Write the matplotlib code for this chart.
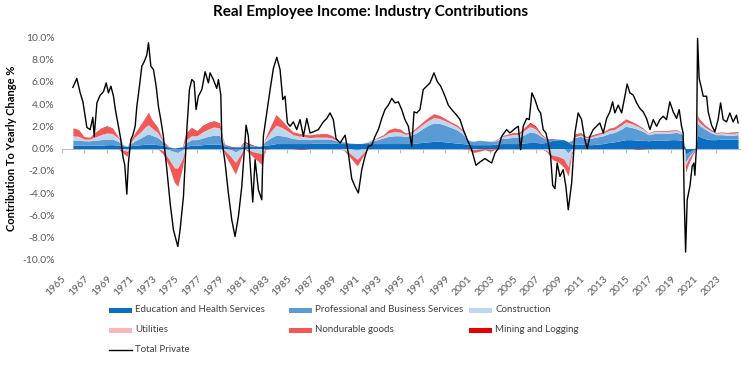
import numpy as np
import matplotlib.pyplot as plt
import matplotlib as mpl
from matplotlib.patches import Rectangle
from matplotlib.lines import Line2D

mpl.rc('font', family=['Lato', 'DejaVu Sans'])

# ---- Total Private (yearly change, %) ----
tot_years = [1966.00, 1966.35, 1966.65, 1966.89, 1967.09, 1967.24, 1967.53, 1967.77, 1967.89, 1968.13,
             1968.42, 1968.71, 1968.95, 1969.15, 1969.37, 1969.60, 1969.75, 1970.04, 1970.25, 1970.45,
             1970.60, 1970.78, 1970.92, 1971.14, 1971.31, 1971.52, 1971.67, 1971.90, 1972.11, 1972.32,
             1972.55, 1972.70, 1972.91, 1973.14, 1973.38, 1973.58, 1973.79, 1974.02, 1974.33, 1974.62,
             1974.91, 1975.30, 1975.50, 1975.80, 1976.10, 1976.33, 1976.54, 1976.74, 1976.92, 1977.12,
             1977.43, 1977.72, 1978.01, 1978.16, 1978.45, 1978.75, 1978.90, 1979.11, 1979.20, 1979.49,
             1979.78, 1980.08, 1980.37, 1980.67, 1980.97, 1981.35, 1981.55, 1981.94, 1982.15, 1982.44,
             1982.74, 1982.88, 1983.18, 1983.48, 1983.77, 1984.07, 1984.36, 1984.60, 1984.80, 1985.01,
             1985.25, 1985.54, 1985.84, 1986.13, 1986.43, 1986.73, 1987.02, 1987.31, 1987.75, 1988.20,
             1988.50, 1988.79, 1989.08, 1989.32, 1989.68, 1990.12, 1990.41, 1990.71, 1991.00, 1991.30,
             1991.60, 1991.89, 1992.18, 1992.48, 1992.78, 1993.07, 1993.37, 1993.66, 1993.95, 1994.26,
             1994.55, 1994.84, 1995.14, 1995.43, 1995.73, 1996.03, 1996.23, 1996.47, 1996.76, 1997.05,
             1997.36, 1997.65, 1998.00, 1998.30, 1998.60, 1998.98, 1999.27, 1999.57, 2000.01, 2000.31,
             2000.60, 2000.95, 2001.34, 2001.72, 2002.08, 2002.52, 2003.11, 2003.41, 2003.70, 2004.00,
             2004.44, 2004.73, 2005.18, 2005.47, 2005.68, 2005.91, 2006.21, 2006.44, 2006.68, 2006.95,
             2007.24, 2007.45, 2007.68, 2007.92, 2008.13, 2008.34, 2008.52, 2008.72, 2008.92, 2009.16,
             2009.45, 2009.69, 2009.90, 2010.20, 2010.49, 2010.78, 2011.08, 2011.37, 2011.58, 2011.82,
             2012.11, 2012.41, 2012.70, 2013.00, 2013.30, 2013.59, 2013.83, 2014.03, 2014.33, 2014.63,
             2014.92, 2015.12, 2015.36, 2015.66, 2015.96, 2016.25, 2016.54, 2016.84, 2017.14, 2017.43,
             2017.73, 2018.02, 2018.31, 2018.61, 2018.90, 2019.20, 2019.50, 2019.73, 2019.94, 2020.08,
             2020.17, 2020.30, 2020.44, 2020.68, 2020.88, 2021.03, 2021.12, 2021.27, 2021.36, 2021.50,
             2021.71, 2021.86, 2022.16, 2022.30, 2022.60, 2022.89, 2023.18, 2023.40, 2023.63, 2023.93,
             2024.22, 2024.51, 2024.81, 2024.95]
tot_vals = [5.5, 6.3, 5.0, 4.2, 2.9, 1.9, 1.7, 2.8, 1.1, 4.1,
            4.8, 5.1, 5.9, 5.0, 5.6, 4.7, 3.6, 2.0, 0.8, -0.8,
            -1.5, -4.1, -1.3, 0.8, 1.2, 2.0, 3.8, 5.6, 7.4, 7.8,
            8.4, 9.5, 7.4, 7.1, 5.6, 3.8, 2.6, 1.1, -1.9, -4.9,
            -7.3, -8.8, -7.3, -4.3, 1.7, 5.3, 6.2, 6.0, 3.5, 4.7,
            5.3, 6.9, 5.9, 6.8, 6.2, 5.4, 6.2, 4.8, 0.8, -1.3,
            -4.0, -6.4, -7.9, -6.1, -3.4, 2.1, 1.1, -4.8, -1.0, -3.7,
            -4.6, 1.1, 3.2, 5.3, 7.2, 8.2, 7.1, 4.4, 4.7, 2.3,
            2.0, 2.4, 1.7, 2.6, 1.1, 2.7, 1.4, 1.5, 1.7, 2.4,
            2.7, 3.2, 2.6, 0.9, 0.5, 1.2, -0.4, -2.7, -3.4, -4.0,
            -1.9, -0.7, 0.2, 0.3, 1.1, 1.7, 2.7, 3.5, 3.9, 4.5,
            4.1, 4.2, 3.5, 2.6, 2.0, 0.2, 3.3, 3.2, 3.5, 5.3,
            5.6, 5.9, 6.8, 6.0, 5.6, 4.7, 3.9, 3.5, 3.0, 2.6,
            1.7, 0.8, -0.1, -1.5, -1.2, -0.9, -1.3, -0.4, 0.0, 1.1,
            1.7, 1.4, 1.8, 2.0, -0.1, 2.0, 2.7, 2.6, 5.0, 4.4,
            3.5, 3.2, 1.7, 1.4, 0.5, -0.7, -3.3, -3.6, -1.3, -2.5,
            -1.9, -3.4, -5.5, -3.1, 1.4, 3.2, 2.6, 0.8, 0.0, 1.1,
            1.7, 2.0, 2.3, 1.4, 2.7, 3.3, 4.2, 3.2, 3.9, 3.2,
            4.7, 5.8, 5.0, 4.8, 4.1, 3.6, 3.3, 2.7, 1.7, 2.6,
            2.0, 2.6, 2.9, 2.6, 4.2, 3.3, 2.7, 3.5, 2.0, 1.4,
            -4.3, -9.3, -4.6, -3.4, -1.6, -1.3, -2.4, 0.3, 9.9, 6.3,
            5.4, 4.7, 4.7, 3.3, 2.1, 1.5, 2.6, 4.1, 2.6, 2.4,
            3.2, 2.4, 3.0, 2.3]

# ---- Industry contributions (percentage points) ----
comp_years = [1966.0, 1966.5, 1967.0, 1967.5, 1968.0, 1968.5, 1969.0, 1969.5, 1970.0, 1970.5,
              1970.8, 1971.0, 1971.5, 1972.0, 1972.5, 1972.7, 1973.0, 1973.5, 1974.0, 1974.5,
              1975.0, 1975.3, 1975.7, 1976.0, 1976.5, 1977.0, 1977.5, 1978.0, 1978.5, 1979.0,
              1979.25, 1979.5, 1980.0, 1980.4, 1980.8, 1981.2, 1981.5, 1982.0, 1982.5, 1982.8,
              1983.0, 1983.5, 1984.0, 1984.5, 1985.0, 1985.5, 1986.0, 1986.5, 1987.0, 1987.5,
              1988.0, 1988.5, 1989.0, 1989.5, 1990.0, 1990.5, 1991.2, 1991.5, 1992.0, 1992.5,
              1993.0, 1993.5, 1994.0, 1994.5, 1995.0, 1995.5, 1996.0, 1996.5, 1997.0, 1997.5,
              1998.0, 1998.5, 1999.0, 1999.5, 2000.0, 2000.5, 2001.0, 2001.5, 2002.0, 2002.5,
              2003.0, 2003.5, 2004.0, 2004.5, 2005.0, 2005.5, 2006.0, 2006.5, 2007.0, 2007.5,
              2008.0, 2008.5, 2009.0, 2009.5, 2009.9, 2010.2, 2010.5, 2011.0, 2011.5, 2012.0,
              2012.5, 2013.0, 2013.5, 2014.0, 2014.5, 2015.0, 2015.5, 2016.0, 2016.5, 2017.0,
              2017.5, 2018.0, 2018.5, 2019.0, 2019.5, 2020.0, 2020.2, 2020.3, 2020.6, 2021.0,
              2021.2, 2021.35, 2021.5, 2022.0, 2022.5, 2023.0, 2023.5, 2024.0, 2024.5, 2024.95]
edu = [0.30, 0.30, 0.30, 0.30, 0.30, 0.30, 0.35, 0.35, 0.30, 0.25,
       0.20, 0.25, 0.30, 0.35, 0.40, 0.40, 0.40, 0.35, 0.30, 0.10,
       0.05, 0.10, 0.15, 0.20, 0.30, 0.30, 0.35, 0.40, 0.40, 0.40,
       0.30, 0.20, 0.15, 0.10, 0.10, 0.25, 0.25, 0.20, 0.20, 0.25,
       0.30, 0.35, 0.45, 0.45, 0.45, 0.45, 0.45, 0.45, 0.45, 0.50,
       0.50, 0.50, 0.50, 0.45, 0.45, 0.45, 0.45, 0.45, 0.45, 0.45,
       0.45, 0.45, 0.45, 0.45, 0.45, 0.45, 0.45, 0.50, 0.55, 0.60,
       0.65, 0.65, 0.60, 0.55, 0.50, 0.45, 0.40, 0.35, 0.35, 0.35,
       0.35, 0.40, 0.45, 0.45, 0.45, 0.45, 0.50, 0.55, 0.55, 0.50,
       0.55, 0.75, 0.80, 0.80, 0.60, 0.40, 0.40, 0.40, 0.35, 0.35,
       0.40, 0.45, 0.55, 0.60, 0.70, 0.80, 0.80, 0.75, 0.75, 0.70,
       0.75, 0.75, 0.75, 0.80, 0.80, 0.75, 0.20, -0.50, -0.30, -0.10,
       0.00, 1.20, 1.10, 0.90, 0.80, 0.80, 0.85, 0.85, 0.85, 0.85]
prof = [0.45, 0.45, 0.40, 0.40, 0.45, 0.50, 0.50, 0.50, 0.35, 0.05,
        -0.05, 0.10, 0.40, 0.60, 0.85, 0.90, 0.80, 0.65, 0.30, -0.10,
        -0.30, -0.35, -0.10, 0.30, 0.50, 0.50, 0.60, 0.70, 0.80, 0.80,
        0.40, 0.10, -0.10, -0.30, -0.10, 0.20, 0.15, 0.05, 0.00, 0.00,
        0.30, 0.60, 0.75, 0.70, 0.60, 0.45, 0.40, 0.40, 0.35, 0.35,
        0.35, 0.35, 0.30, 0.20, 0.15, 0.05, -0.15, -0.05, 0.10, 0.20,
        0.35, 0.50, 0.65, 0.70, 0.70, 0.65, 0.75, 0.95, 1.25, 1.50,
        1.65, 1.60, 1.50, 1.35, 1.20, 0.90, 0.35, 0.30, 0.40, 0.35,
        0.30, 0.30, 0.45, 0.50, 0.55, 0.55, 0.75, 0.95, 0.85, 0.60,
        0.25, 0.10, 0.05, 0.00, -0.40, 0.30, 0.60, 0.70, 0.55, 0.60,
        0.65, 0.70, 0.80, 0.85, 1.00, 1.20, 1.10, 1.00, 0.80, 0.55,
        0.60, 0.60, 0.60, 0.60, 0.65, 0.55, 0.10, -0.70, -0.40, -0.10,
        0.05, 1.10, 1.00, 0.85, 0.65, 0.45, 0.40, 0.35, 0.35, 0.40]
constr = [0.35, 0.30, 0.10, 0.10, 0.25, 0.40, 0.50, 0.45, 0.25, -0.15,
          -0.20, 0.05, 0.30, 0.50, 0.70, 0.75, 0.60, 0.40, -0.20, -0.80,
          -1.35, -1.30, -0.80, 0.20, 0.30, 0.30, 0.50, 0.60, 0.70, 0.60,
          0.20, -0.20, -0.60, -0.90, -0.50, 0.05, -0.10, -0.30, -0.40, -0.50,
          0.10, 0.50, 0.85, 0.70, 0.50, 0.30, 0.25, 0.20, 0.15, 0.15,
          0.15, 0.15, 0.10, 0.00, -0.10, -0.40, -0.80, -0.60, -0.10, 0.05,
          0.10, 0.15, 0.30, 0.35, 0.30, 0.15, 0.20, 0.30, 0.35, 0.40,
          0.45, 0.40, 0.35, 0.30, 0.25, 0.20, 0.05, -0.10, -0.05, 0.00,
          -0.05, 0.05, 0.15, 0.20, 0.25, 0.25, 0.35, 0.45, 0.30, 0.05,
          -0.20, -0.60, -0.70, -0.90, -1.20, -0.30, 0.05, 0.10, 0.05, 0.10,
          0.15, 0.20, 0.25, 0.25, 0.30, 0.35, 0.30, 0.25, 0.20, 0.10,
          0.15, 0.15, 0.15, 0.15, 0.15, 0.10, 0.00, -0.30, -0.15, -0.05,
          0.00, 0.30, 0.25, 0.15, 0.15, 0.10, 0.15, 0.15, 0.15, 0.15]
util = [0.05, 0.05, 0.05, 0.05, 0.05, 0.05, 0.05, 0.05, 0.05, 0.03,
        0.00, 0.03, 0.05, 0.05, 0.08, 0.08, 0.05, 0.05, 0.00, -0.05,
        -0.10, -0.10, -0.05, 0.03, 0.05, 0.05, 0.05, 0.05, 0.05, 0.05,
        0.03, 0.00, -0.03, -0.05, -0.03, 0.02, 0.00, 0.00, 0.00, -0.02,
        0.02, 0.05, 0.05, 0.05, 0.05, 0.05, 0.03, 0.03, 0.03, 0.03,
        0.03, 0.03, 0.03, 0.02, 0.02, 0.00, -0.03, 0.00, 0.02, 0.02,
        0.02, 0.02, 0.03, 0.03, 0.03, 0.02, 0.02, 0.03, 0.03, 0.03,
        0.05, 0.05, 0.04, 0.04, 0.03, 0.03, 0.02, 0.00, 0.00, 0.00,
        0.00, 0.02, 0.02, 0.02, 0.02, 0.02, 0.03, 0.05, 0.05, 0.03,
        0.02, 0.00, 0.00, -0.02, -0.05, 0.00, 0.02, 0.02, 0.02, 0.02,
        0.02, 0.02, 0.03, 0.03, 0.03, 0.05, 0.05, 0.03, 0.02, 0.02,
        0.02, 0.02, 0.02, 0.02, 0.02, 0.02, 0.00, 0.00, 0.00, 0.00,
        0.00, 0.02, 0.02, 0.02, 0.02, 0.02, 0.02, 0.02, 0.02, 0.02]
nondur = [0.65, 0.55, 0.20, 0.15, 0.40, 0.55, 0.60, 0.45, 0.10, -0.30,
          -0.45, 0.10, 0.35, 0.60, 0.85, 1.05, 0.70, 0.45, -0.30, -0.60,
          -1.30, -1.65, -0.80, 0.60, 0.70, 0.40, 0.55, 0.55, 0.50, 0.40,
          0.05, -0.40, -0.80, -1.05, -0.60, 0.05, -0.15, -0.50, -0.80, -0.95,
          0.10, 0.50, 0.90, 0.60, 0.40, 0.25, 0.25, 0.20, 0.25, 0.25,
          0.30, 0.30, 0.20, 0.05, -0.05, -0.30, -0.55, -0.40, -0.05, 0.05,
          0.08, 0.12, 0.25, 0.30, 0.25, 0.10, 0.10, 0.15, 0.20, 0.25,
          0.30, 0.25, 0.20, 0.15, 0.15, 0.10, -0.05, -0.25, -0.20, -0.10,
          -0.20, -0.05, 0.05, 0.08, 0.10, 0.10, 0.15, 0.25, 0.20, 0.10,
          -0.10, -0.40, -0.50, -0.70, -0.75, -0.20, 0.20, 0.15, 0.05, 0.10,
          0.10, 0.10, 0.15, 0.15, 0.20, 0.25, 0.20, 0.15, 0.10, 0.05,
          0.05, 0.05, 0.05, 0.05, 0.05, 0.03, 0.00, -0.50, -0.30, -0.10,
          0.00, 0.30, 0.25, 0.15, 0.10, 0.05, 0.05, 0.05, 0.10, 0.10]
mining = [0.05, 0.05, 0.02, 0.02, 0.03, 0.05, 0.05, 0.05, 0.03, 0.00,
          0.00, 0.00, 0.02, 0.05, 0.07, 0.07, 0.05, 0.05, 0.05, 0.05,
          0.00, 0.00, 0.00, 0.05, 0.05, 0.05, 0.05, 0.05, 0.05, 0.05,
          0.05, 0.05, 0.05, 0.05, 0.05, 0.10, 0.10, 0.05, 0.00, -0.05,
          -0.05, 0.00, 0.05, 0.05, 0.00, 0.00, -0.05, -0.05, 0.00, 0.02,
          0.02, 0.02, 0.02, 0.00, 0.00, 0.00, -0.02, 0.00, 0.00, 0.00,
          0.00, 0.00, 0.02, 0.02, 0.02, 0.02, 0.02, 0.02, 0.02, 0.02,
          0.03, 0.02, 0.00, 0.00, 0.02, 0.02, 0.00, 0.00, 0.00, 0.00,
          0.00, 0.02, 0.03, 0.03, 0.05, 0.05, 0.08, 0.10, 0.10, 0.05,
          0.05, 0.05, 0.00, -0.05, -0.05, 0.02, 0.05, 0.05, 0.05, 0.05,
          0.05, 0.03, 0.03, 0.05, 0.05, 0.02, 0.00, -0.05, -0.03, 0.00,
          0.02, 0.03, 0.03, 0.03, 0.02, 0.00, 0.00, -0.10, -0.10, -0.05,
          0.00, 0.05, 0.05, 0.05, 0.03, 0.02, 0.02, 0.02, 0.02, 0.02]

names = ['Education and Health Services', 'Professional and Business Services', 'Construction',
         'Utilities', 'Nondurable goods', 'Mining and Logging']
colors = ['#0A6FC2', '#5B9BD5', '#BDD7EE', '#F8B8B8', '#F25858', '#E60000']
tick_years = list(range(1965, 2024, 2))

fig = plt.figure(figsize=(7.42, 3.65), dpi=100)
ax = fig.add_axes([0.083, 0.288, 0.914, 0.610])

x = np.array(comp_years)
vals = np.array([edu, prof, constr, util, nondur, mining])
pos = np.cumsum(np.clip(vals, 0, None), axis=0)
neg = np.cumsum(np.clip(vals, None, 0), axis=0)
zero = np.zeros_like(x)
for i in range(len(names)):
    lo_p = zero if i == 0 else pos[i - 1]
    lo_n = zero if i == 0 else neg[i - 1]
    ax.fill_between(x, lo_p, pos[i], color=colors[i], lw=0, zorder=2)
    ax.fill_between(x, lo_n, neg[i], color=colors[i], lw=0, zorder=2)

ax.plot(tot_years, tot_vals, color='black', lw=1.0, zorder=4)

ax.set_xlim(1965, 2025.1)
ax.set_ylim(-10, 10)
ax.set_yticks(np.arange(-10, 10.1, 2))
ax.set_yticklabels([f'{v:.1f}%' for v in np.arange(-10, 10.1, 2)])
ax.tick_params(axis='y', length=0, pad=5, labelsize=7.5, labelcolor='#595959')

for s in ['top', 'right', 'left']:
    ax.spines[s].set_visible(False)
ax.spines['bottom'].set_position(('data', 0))
ax.spines['bottom'].set_color('#BFBFBF')
ax.spines['bottom'].set_linewidth(0.8)
ax.spines['bottom'].set_zorder(1)
ax.set_xticks(tick_years)
ax.tick_params(axis='x', length=3, color='#BFBFBF', labelbottom=False)

sec = ax.secondary_xaxis('bottom')
sec.spines['bottom'].set_visible(False)
sec.set_xticks(tick_years)
sec.set_xticklabels([str(y) for y in tick_years], rotation=45, ha='right', rotation_mode='anchor')
sec.tick_params(length=0, pad=10, labelsize=7.5, labelcolor='#595959')

ax.set_ylabel('Contribution To Yearly Change %', fontsize=8, fontweight='bold', labelpad=4)
fig.suptitle('Real Employee Income: Industry Contributions', fontsize=11, fontweight='bold', y=0.985)

# legend laid out in 3 fixed-width columns like the original
W, H = 742.0, 365.0
col_x = [109, 289, 469]
row_y = [310, 330, 350]
for k, (nm, c) in enumerate(zip(names, colors)):
    cx, ry = col_x[k % 3], row_y[k // 3]
    fig.add_artist(Rectangle((cx / W, 1 - (ry + 2.5) / H), 23 / W, 5 / H,
                             transform=fig.transFigure, color=c, lw=0))
    fig.text((cx + 26) / W, 1 - ry / H, nm, fontsize=7, color='#404040', va='center')
fig.add_artist(Line2D([109 / W, 132 / W], [1 - 350 / H, 1 - 350 / H],
                      transform=fig.transFigure, color='black', lw=1.0))
fig.text(135 / W, 1 - 350 / H, 'Total Private', fontsize=7, color='#404040', va='center')

plt.savefig('out.png', dpi=100)
